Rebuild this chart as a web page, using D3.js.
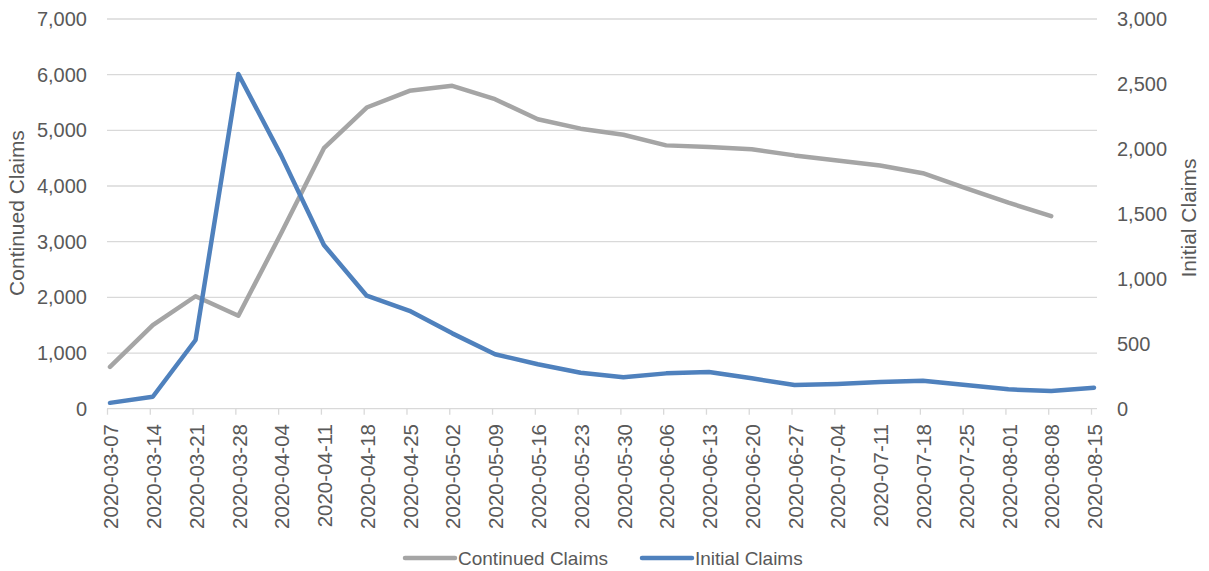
<!DOCTYPE html>
<html>
<meta charset=utf-8>
<title>Continued vs Initial Claims</title>
<style>
    body { margin: 0; background: #fff; }
    svg text { font-family: "Liberation Sans", Arial, sans-serif; fill: #595959; }
</style>
<svg id=chart width=1209 height=571></svg>
<script src="https://cdn.jsdelivr.net/npm/d3@7"></script>
<script>
// week ending dates
var weeks = ["2020-03-07", "2020-03-14", "2020-03-21", "2020-03-28", "2020-04-04", "2020-04-11",
    "2020-04-18", "2020-04-25", "2020-05-02", "2020-05-09", "2020-05-16", "2020-05-23",
    "2020-05-30", "2020-06-06", "2020-06-13", "2020-06-20", "2020-06-27", "2020-07-04",
    "2020-07-11", "2020-07-18", "2020-07-25", "2020-08-01", "2020-08-08", "2020-08-15"];

// left axis (last week not reported yet)
var continuedClaims = [750, 1500, 2020, 1670, 3150, 4680, 5410, 5710, 5800, 5560, 5200, 5030,
    4920, 4730, 4700, 4660, 4550, 4460, 4370, 4230, 3960, 3700, 3460, null];

// right axis
var initialClaims = [45, 92, 529, 2577, 1950, 1260, 870, 754, 580, 419, 342, 277,
    242, 272, 282, 234, 182, 190, 205, 216, 182, 149, 136, 162];

var leftTicks = [0, 1000, 2000, 3000, 4000, 5000, 6000, 7000];
var rightTicks = [0, 500, 1000, 1500, 2000, 2500, 3000];

function drawChart() {
    var svg = d3.select("#chart");
    var plotTop = 19, plotBottom = 408.7, plotLeft = 107, plotRight = 1097;

    var x = d3.scalePoint().domain(weeks).range([110, 1094]);
    var yL = d3.scaleLinear().domain([0, 7000]).range([plotBottom, plotTop]);
    var yR = d3.scaleLinear().domain([0, 3000]).range([plotBottom, plotTop]);
    var fmt = d3.format(",");

    // gridlines
    svg.append("g").selectAll("line").data(leftTicks).join("line")
        .attr("x1", plotLeft).attr("x2", plotRight)
        .attr("y1", function (d) { return yL(d); }).attr("y2", function (d) { return yL(d); })
        .attr("stroke", "#d9d9d9").attr("stroke-width", 1.3);

    // category tick marks
    svg.append("g").selectAll("line").data(weeks).join("line")
        .attr("x1", function (d) { return x(d) - 2.5; }).attr("x2", function (d) { return x(d) - 2.5; })
        .attr("y1", plotBottom).attr("y2", plotBottom + 6)
        .attr("stroke", "#d9d9d9").attr("stroke-width", 1.3);

    // left tick labels
    svg.append("g").selectAll("text").data(leftTicks).join("text")
        .attr("x", 87).attr("y", function (d) { return yL(d); })
        .attr("dy", "0.35em").attr("text-anchor", "end").attr("font-size", 20)
        .text(fmt);

    // right tick labels
    svg.append("g").selectAll("text").data(rightTicks).join("text")
        .attr("x", 1117).attr("y", function (d) { return yR(d); })
        .attr("dy", "0.35em").attr("text-anchor", "start").attr("font-size", 20)
        .text(fmt);

    // x labels, rotated
    svg.append("g").selectAll("text").data(weeks).join("text")
        .attr("transform", function (d) { return "translate(" + (x(d) + 1) + ",424) rotate(-90)"; })
        .attr("dy", "0.35em").attr("text-anchor", "end").attr("font-size", 20.5)
        .text(function (d) { return d; });

    // axis titles
    svg.append("text").attr("transform", "translate(17,213) rotate(-90)")
        .attr("dy", "0.35em").attr("text-anchor", "middle").attr("font-size", 21)
        .text("Continued Claims");
    svg.append("text").attr("transform", "translate(1189,218) rotate(-90)")
        .attr("dy", "0.35em").attr("text-anchor", "middle").attr("font-size", 21)
        .text("Initial Claims");

    // lines
    var lineL = d3.line()
        .defined(function (d) { return d != null; })
        .x(function (d, i) { return x(weeks[i]); })
        .y(function (d) { return yL(d); });
    var lineR = d3.line()
        .x(function (d, i) { return x(weeks[i]); })
        .y(function (d) { return yR(d); });

    svg.append("path").datum(continuedClaims).attr("d", lineL)
        .attr("fill", "none").attr("stroke", "#a5a5a5").attr("stroke-width", 4.5)
        .attr("stroke-linejoin", "round").attr("stroke-linecap", "round");
    svg.append("path").datum(initialClaims).attr("d", lineR)
        .attr("fill", "none").attr("stroke", "#4f81bd").attr("stroke-width", 4.5)
        .attr("stroke-linejoin", "round").attr("stroke-linecap", "round");

    // legend
    var legend = [
        { name: "Continued Claims", color: "#a5a5a5", x: 405 },
        { name: "Initial Claims", color: "#4f81bd", x: 642 }
    ];
    var lg = svg.append("g").selectAll("g").data(legend).join("g")
        .attr("transform", function (d) { return "translate(" + d.x + ",558)"; });
    lg.append("line").attr("x1", 0).attr("x2", 50).attr("y1", 0).attr("y2", 0)
        .attr("stroke", function (d) { return d.color; }).attr("stroke-width", 4.5)
        .attr("stroke-linecap", "round");
    lg.append("text").attr("x", 53).attr("dy", "0.35em").attr("font-size", 19)
        .text(function (d) { return d.name; });
}

drawChart();
</script>
</html>
